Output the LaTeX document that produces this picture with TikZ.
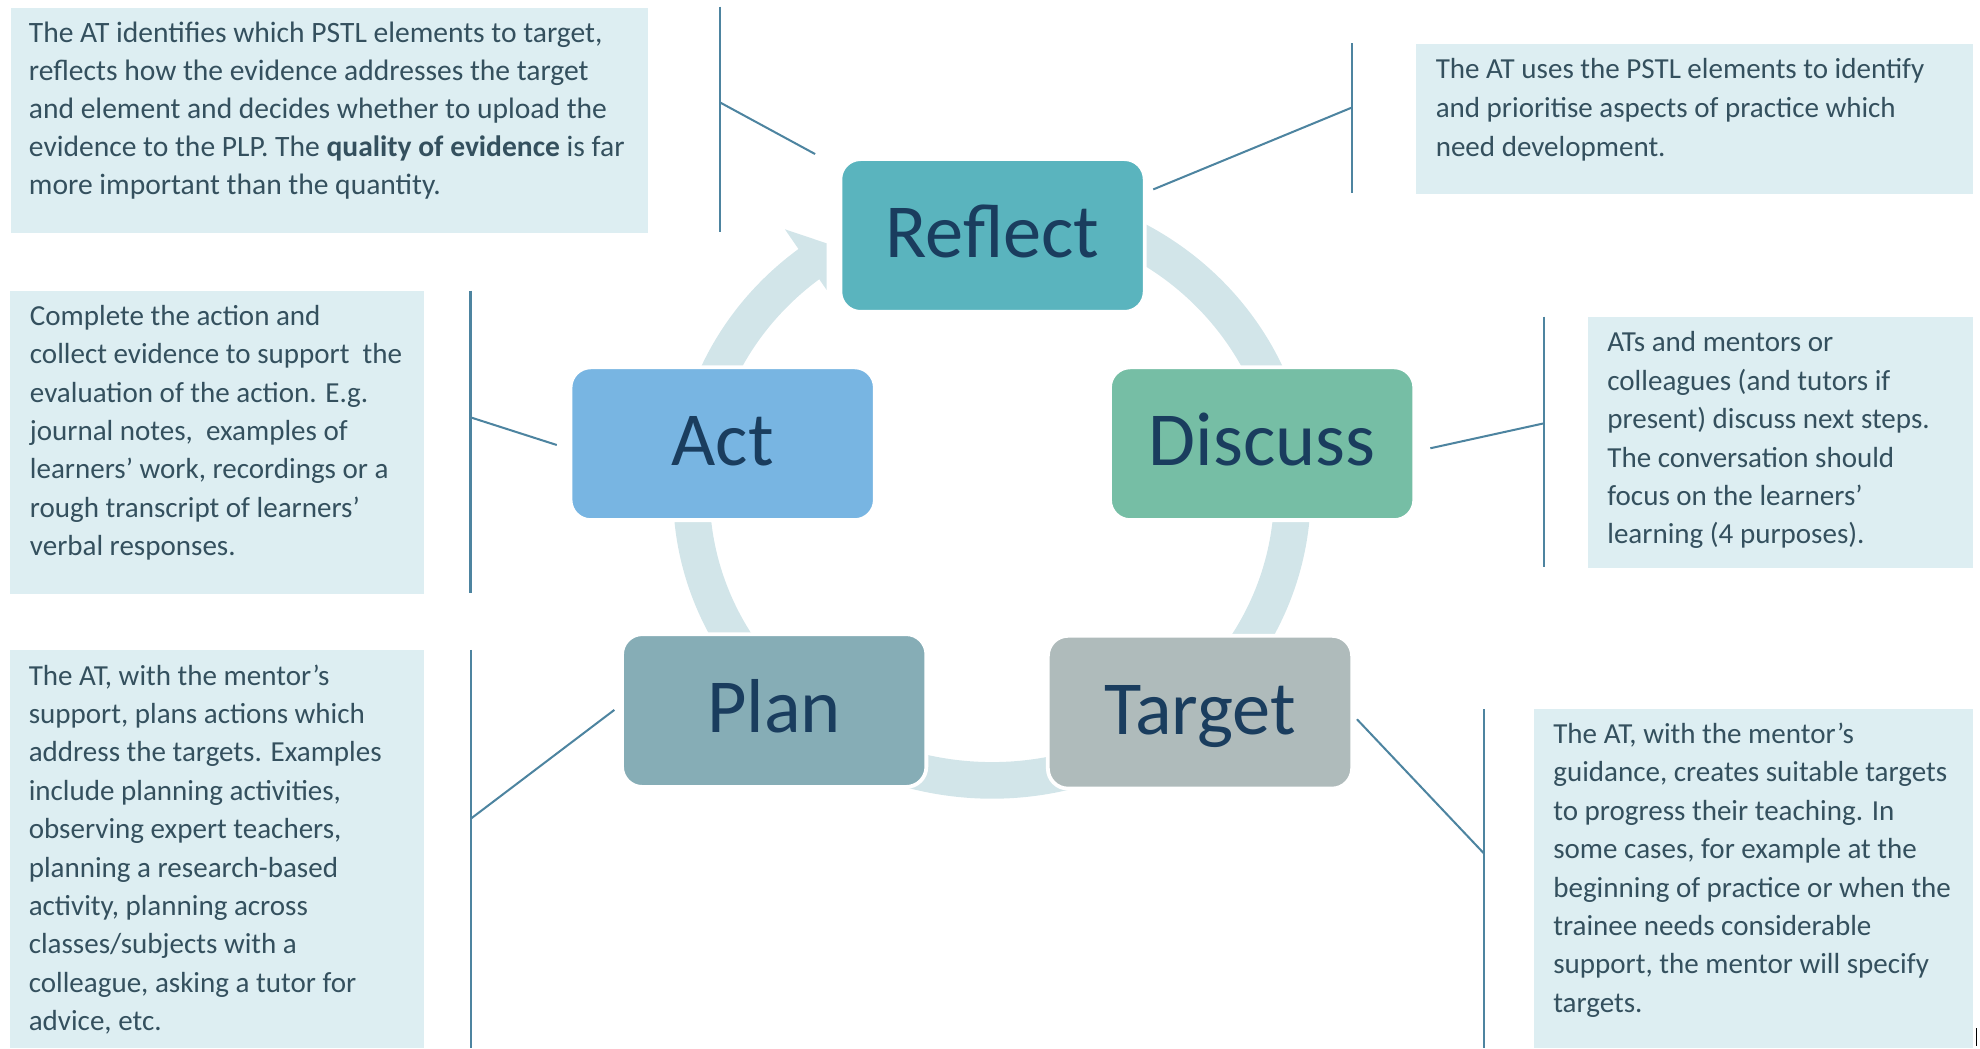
\documentclass[tikz,border=0pt]{standalone}
\usepackage{fontspec}
\setmainfont{Carlito}
\usetikzlibrary{calc}
\definecolor{descfill}{HTML}{DDEEF2}
\definecolor{desctext}{HTML}{34505E}
\definecolor{linecol}{HTML}{4D84A0}
\definecolor{ringcol}{HTML}{D2E5E9}
\definecolor{labcol}{HTML}{1A3D5E}
\definecolor{reflectcol}{HTML}{5AB4BE}
\definecolor{actcol}{HTML}{78B5E2}
\definecolor{discusscol}{HTML}{76BEA5}
\definecolor{plancol}{HTML}{86ADB6}
\definecolor{targetcol}{HTML}{AFBBBB}
\begin{document}
\begin{tikzpicture}[x=1pt,y=1pt,
  stagebox/.style={rectangle, rounded corners=16pt, draw=white, line width=3pt,
    minimum width=241pt, minimum height=121pt, inner sep=0pt,
    text height=35pt, text depth=0pt, text=labcol,
    font=\fontsize{60.5}{60}\selectfont},
  descbox/.style={rectangle, fill=descfill, draw=none, inner sep=0pt, anchor=north west},
  desctxt/.style={inner sep=0pt, anchor=north west, align=left, text=desctext,
    font=\fontsize{23}{30.4}\selectfont},
  bracket/.style={draw=linecol, line width=1.6pt},
  ringline/.style={draw=ringcol, line width=29pt},
]
\useasboundingbox (0,0) rectangle (1568,830);

% ---- cycle ring with arrow ----
\coordinate (C) at (785.5,440);
\draw[ringline] ($(C)+(127:238 and 228)$) arc[start angle=127, end angle=450, x radius=238, y radius=228];
\coordinate (ahw) at (621.6,648.4);
\coordinate (aht) at (654.6,637.3);
\coordinate (ahb) at (654.6,600.4);
\fill[ringcol] (ahw) -- (aht) -- (ahb) -- cycle;

% ---- stage boxes ----
\node[stagebox, fill=reflectcol] (reflect) at (786,643.5) {Reflect};
\node[stagebox, fill=actcol] (act) at (572.3,478.6) {Act};
\node[stagebox, fill=discusscol] (discuss) at (999.5,478.6) {Discuss};
\node[stagebox, fill=plancol] (plan) at (613.1,267.3) {Plan};
\node[stagebox, fill=targetcol] (target) at (950.3,266) {Target};

% ---- description boxes ----
\node[descbox, minimum width=504.6pt, minimum height=178.2pt] (d1) at (8.2,824.2) {};
\node[desctxt, font=\fontsize{23.4}{30.1}\selectfont] (t1) at (22.7,817.3) {\strut The AT identifies which PSTL elements to target,\\
reflects how the evidence addresses the target\\
and element and decides whether to upload the\\
evidence to the PLP. The \textbf{quality of evidence} is far\\
more important than the quantity.};

\node[descbox, minimum width=440.7pt, minimum height=118.8pt] (d2) at (1121.3,795.7) {};
\node[desctxt, font=\fontsize{23}{30.7}\selectfont] (t2) at (1136.8,789.5) {\strut The AT uses the PSTL elements to identify\\
and prioritise aspects of practice which\\
need development.};

\node[descbox, minimum width=327.9pt, minimum height=239.7pt] (d3) at (7.8,599.8) {};
\node[desctxt] (t3) at (23.5,593.9) {\strut Complete the action and\\
collect evidence to support\ \ the\\
evaluation of the action. E.g.\\
journal notes,\ \ examples of\\
learners’ work, recordings or a\\
rough transcript of learners’\\
verbal responses.};

\node[descbox, minimum width=304.8pt, minimum height=198.7pt] (d4) at (1257.4,579.2) {};
\node[desctxt] (t4) at (1272.7,572.8) {\strut ATs and mentors or\\
colleagues (and tutors if\\
present) discuss next steps.\\
The conversation should\\
focus on the learners’\\
learning (4 purposes).};

\node[descbox, minimum width=327.4pt, minimum height=315.3pt] (d5) at (8.1,315.3) {};
\node[desctxt] (t5) at (22.6,308.9) {\strut The AT, with the mentor’s\\
support, plans actions which\\
address the targets. Examples\\
include planning activities,\\
observing expert teachers,\\
planning a research-based\\
activity, planning across\\
classes/subjects with a\\
colleague, asking a tutor for\\
advice, etc.};

\node[descbox, minimum width=347.3pt, minimum height=268.5pt] (d6) at (1214.7,268.5) {};
\node[desctxt] (t6) at (1229.9,262.7) {\strut The AT, with the mentor’s\\
guidance, creates suitable targets\\
to progress their teaching. In\\
some cases, for example at the\\
beginning of practice or when the\\
trainee needs considerable\\
support, the mentor will specify\\
targets.};

% ---- brackets ----
\coordinate (b1t) at (570.5,824.7); \coordinate (b1b) at (570.5,646);
\coordinate (b1e) at (570.5,748.7); \coordinate (b1n) at (645.5,708);
\draw[bracket] (b1t) -- (b1b); \draw[bracket] (b1e) -- (b1n);

\coordinate (b2t) at (1071,795.7); \coordinate (b2b) at (1071,677.4);
\coordinate (b2e) at (1071,745); \coordinate (b2n) at (913.3,680);
\draw[bracket] (b2t) -- (b2b); \draw[bracket] (b2e) -- (b2n);

\coordinate (b3t) at (372.6,599.8); \coordinate (b3b) at (372.6,360.1);
\coordinate (b3e) at (372.6,499.5); \coordinate (b3n) at (440.9,477.6);
\draw[bracket] (b3t) -- (b3b); \draw[bracket] (b3e) -- (b3n);

\coordinate (b4t) at (1222.9,579.2); \coordinate (b4b) at (1222.9,381.3);
\coordinate (b4e) at (1222.9,494.8); \coordinate (b4n) at (1132.7,475);
\draw[bracket] (b4t) -- (b4b); \draw[bracket] (b4e) -- (b4n);

\coordinate (b5t) at (373.3,315.3); \coordinate (b5b) at (373.3,0);
\coordinate (b5e) at (373.3,182); \coordinate (b5n) at (486.5,267.8);
\draw[bracket] (b5t) -- (b5b); \draw[bracket] (b5e) -- (b5n);

\coordinate (b6t) at (1175,268.5); \coordinate (b6b) at (1175,0);
\coordinate (b6e) at (1175,154.3); \coordinate (b6n) at (1074.6,260.4);
\draw[bracket] (b6t) -- (b6b); \draw[bracket] (b6e) -- (b6n);

% small mark at bottom right
\coordinate (mk1) at (1565.3,2); \coordinate (mk2) at (1565.3,16);
\draw[black, line width=1.2pt] (mk1) -- (mk2);
\end{tikzpicture}
\end{document}
